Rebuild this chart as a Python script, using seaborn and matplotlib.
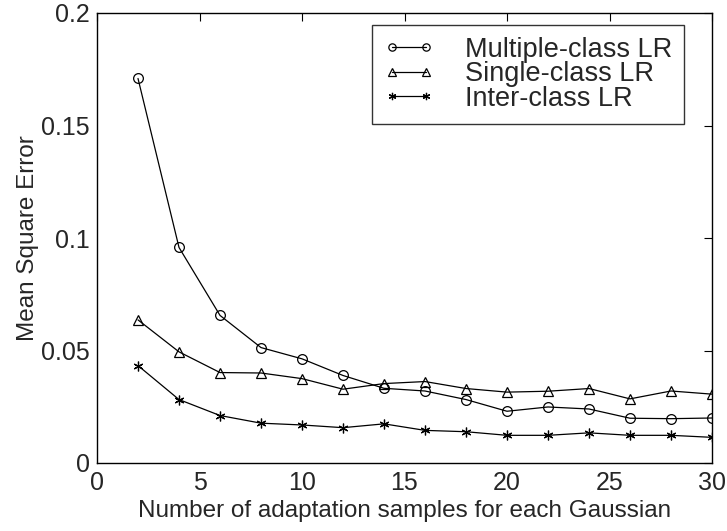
import matplotlib
matplotlib.use("Agg")
import matplotlib.pyplot as plt
import seaborn as sns
import pandas as pd

samples = [2, 4, 6, 8, 10, 12, 14, 16, 18, 20, 22, 24, 26, 28, 30]
multiple_class = [0.1709, 0.0958, 0.0656, 0.0513, 0.0463, 0.0389, 0.0332, 0.0320,
                  0.0282, 0.0230, 0.0249, 0.0240, 0.0199, 0.0197, 0.0200]
single_class = [0.0636, 0.0494, 0.0402, 0.0400, 0.0375, 0.0328, 0.0353, 0.0362,
                0.0331, 0.0315, 0.0319, 0.0331, 0.0285, 0.0320, 0.0306]
inter_class = [0.0433, 0.0282, 0.0211, 0.0177, 0.0169, 0.0157, 0.0174, 0.0145,
               0.0139, 0.0123, 0.0123, 0.0134, 0.0123, 0.0123, 0.0114]
series_names = ["Multiple-class LR", "Single-class LR", "Inter-class LR"]

sns.set_theme(style="white")
plt.rcParams["font.family"] = ["Liberation Sans", "DejaVu Sans"]

fig = plt.figure(figsize=(7.27, 5.31), dpi=100)
ax = fig.add_axes([97/727, 1 - 463/531, (712 - 97)/727, (463 - 13)/531])

markers = ["o", "^", (6, 2, 0)]
for name, vals, m in zip(series_names, [multiple_class, single_class, inter_class], markers):
    df = pd.DataFrame({"x": samples, "y": vals})
    sns.lineplot(data=df, x="x", y="y", ax=ax, color="black", linewidth=0.9,
                 marker=m, markersize=7, markerfacecolor="none" if m != markers[2] else "black",
                 markeredgecolor="black", markeredgewidth=0.9, label=name)

ax.set_xlim(0, 30)
ax.set_ylim(0, 0.2)
ax.set_xticks([0, 5, 10, 15, 20, 25, 30])
ax.set_yticks([0, 0.05, 0.1, 0.15, 0.2])
ax.set_yticklabels(["0", "0.05", "0.1", "0.15", "0.2"])
ax.set_xlabel("Number of adaptation samples for each Gaussian", fontsize=17.5, labelpad=3)
ax.set_ylabel("Mean Square Error", fontsize=17.5, labelpad=2)
ax.tick_params(axis="both", which="both", direction="in", length=6, width=0.8,
               top=True, right=True, labelsize=18, color="black")
ax.tick_params(axis="x", pad=6)
ax.tick_params(axis="y", pad=5)
for s in ax.spines.values():
    s.set_visible(True)
    s.set_color("black")
    s.set_linewidth(1.0)

leg = ax.legend(loc="upper left", fontsize=19.5, frameon=True, fancybox=False,
                edgecolor="black", handlelength=1.85, numpoints=2, markerscale=0.75,
                borderpad=0.43, labelspacing=-0.05, handletextpad=1.15, borderaxespad=0,
                bbox_to_anchor=((372 - 97) / 615, (463 - 25) / 450))
leg.get_frame().set_linewidth(1.0)

fig.savefig("out.png", dpi=100)
